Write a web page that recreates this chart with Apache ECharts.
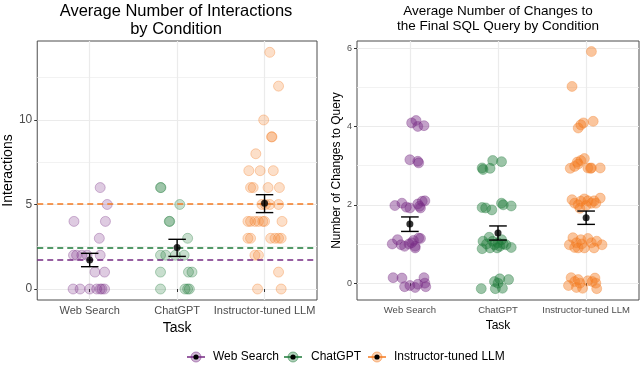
<!DOCTYPE html>
<html>
<head>
<meta charset="utf-8">
<script src="https://cdn.jsdelivr.net/npm/echarts@6/dist/echarts.min.js"></script>
<style>
  html, body { margin: 0; padding: 0; background: #fff; }
  #chart { width: 640px; height: 371px; }
</style>
</head>
<body>
<div id="chart"></div>
<script>
// categories (x positions 1..3 on a value axis, ggplot-style discrete expand)
const tasks = ['Web Search', 'ChatGPT', 'Instructor-tuned LLM']
const colors = ['#762a83', '#1b7837', '#f47a20']

// left panel: [horizontal jitter, interactions]
const webSearchInteractions = [
  [0.12, 6], [0.20, 5], [-0.18, 4], [0.18, 4], [0.11, 3],
  [-0.185, 2], [-0.15, 2], [-0.09, 2], [-0.03, 2], [0.12, 2],
  [0.06, 1], [0.17, 1],
  [-0.19, 0], [-0.11, 0], [0, 0], [0.08, 0], [0.12, 0], [0.14, 0], [0.17, 0]
]
const chatgptInteractions = [
  [-0.19, 6], [-0.185, 6], [0.03, 5], [-0.09, 4], [-0.085, 4], [0.12, 3],
  [-0.19, 2], [-0.13, 2], [-0.02, 2], [0.08, 2],
  [-0.19, 1], [0.13, 1], [0.17, 1],
  [-0.19, 0], [0.09, 0], [0.12, 0], [0.14, 0]
]
const llmInteractions = [
  [0.06, 14], [0.16, 12], [-0.01, 10], [0.08, 9], [0.085, 9], [-0.10, 8],
  [-0.18, 7], [-0.05, 7], [0.10, 7],
  [-0.16, 6], [-0.13, 6], [0.04, 6], [0.17, 6],
  [-0.03, 5], [0.01, 5], [0.06, 5], [0.16, 5],
  [-0.19, 4], [-0.16, 4], [-0.11, 4], [-0.07, 4], [-0.02, 4], [0, 4], [0.2, 4],
  [-0.19, 3], [-0.16, 3], [0.07, 3], [0.12, 3], [0.16, 3], [0.19, 3],
  [-0.11, 2], [-0.07, 2], [0.16, 1], [-0.08, 0], [0.19, 0]
]
const interactionMean = [1.72, 2.45, 5.07]
const interactionLow = [1.32, 1.93, 4.52]
const interactionHigh = [2.11, 2.94, 5.58]
const interactionTicks = [0, 5, 10]
const interactionMinorTicks = [2.5, 7.5, 12.5]

// right panel: [horizontal jitter, jittered number of changes]
const webSearchChanges = [
  [0.02, 4.09], [0.07, 4.15], [0.09, 4.0], [0.16, 4.02],
  [0, 3.15], [0.09, 3.11], [0.10, 3.07],
  [-0.17, 1.98], [-0.09, 2.04], [-0.04, 1.94], [0, 1.92], [0.09, 2.02], [0.11, 1.96], [0.14, 2.09], [0.17, 2.10], [0.12, 1.92],
  [-0.20, 1.0], [-0.14, 1.11], [-0.10, 0.98], [-0.06, 0.94], [-0.01, 1.0], [0.02, 1.03], [0.06, 0.94], [0.10, 1.15], [0.12, 1.14], [0.06, 0.9], [0.04, 1.09],
  [-0.19, 0.14], [-0.09, 0.13], [-0.06, -0.09], [0, -0.06], [0.06, -0.11], [0.09, -0.03], [0.16, 0.14], [0.17, 0], [0.18, -0.09]
]
const chatgptChanges = [
  [-0.17, 2.90], [-0.18, 2.94], [-0.09, 2.93], [-0.06, 3.13], [0.04, 3.10],
  [-0.18, 1.93], [-0.14, 1.92], [-0.07, 1.87], [0.04, 2.04], [0.06, 2.0], [0.15, 1.97],
  [-0.17, 1.07], [-0.10, 1.17], [-0.18, 0.88], [-0.09, 0.9], [-0.04, 0.98], [0, 1.03], [0.02, 0.94], [0.06, 1.0], [0.09, 0.98], [0.15, 0.91], [-0.01, 0.9], [0.04, 1.11], [-0.06, 1.07], [-0.13, 1.0],
  [-0.19, -0.14], [-0.04, 0.04], [0.02, 0.11], [-0.03, -0.14], [0.05, -0.13], [0.12, 0.09], [0, 0]
]
const llmChanges = [
  [0.06, 5.91], [-0.16, 5.02],
  [-0.09, 3.96], [-0.06, 4.04], [-0.03, 4.09], [0.08, 4.13],
  [-0.18, 2.93], [-0.13, 2.98], [-0.10, 3.09], [-0.06, 3.13], [-0.02, 3.18], [0.02, 2.94], [0.05, 2.93], [0.06, 2.94], [0.16, 2.94], [-0.09, 3.04],
  [-0.16, 2.13], [-0.13, 2.04], [-0.09, 2.0], [-0.06, 2.09], [-0.02, 2.15], [0.02, 2.10], [0.06, 2.04], [0.09, 2.10], [0.16, 2.17], [-0.07, 1.91], [0, 1.98], [0.11, 2.04],
  [-0.19, 0.98], [-0.15, 1.16], [-0.11, 1.03], [-0.09, 0.9], [-0.05, 1.0], [-0.02, 0.9], [0.02, 1.14], [0.06, 1.03], [0.09, 0.9], [0.12, 1.07], [0.18, 0.98], [-0.13, 0.91], [-0.06, 1.11],
  [-0.20, -0.06], [-0.17, 0.14], [-0.13, 0.04], [-0.11, -0.11], [-0.07, 0], [-0.04, -0.13], [0.02, 0.06], [0.07, 0.04], [0.10, 0.13], [0.12, -0.14], [-0.09, 0.09], [0.11, 0]
]
const changesMean = [1.51, 1.28, 1.67]
const changesLow = [1.32, 1.10, 1.50]
const changesHigh = [1.69, 1.46, 1.84]
const changesTicks = [0, 2, 4, 6]
const changesMinorTicks = [1, 3, 5]

const FONT = '"Liberation Sans", Arial, sans-serif'
const CAP = 0.1

function rgba(hex, a) {
  const n = parseInt(hex.slice(1), 16)
  return `rgba(${n >> 16},${(n >> 8) & 255},${n & 255},${a})`
}

function place(points, i) {
  return points.map(([dx, y]) => [i + 1 + dx, y])
}

function xAxisFor(gridIndex, labelSize, nameSize, nameGap) {
  return {
    gridIndex, type: 'value', min: 0.4, max: 3.6,
    name: 'Task', nameLocation: 'middle', nameGap,
    nameTextStyle: { fontSize: nameSize, color: '#000', fontFamily: FONT },
    axisLine: { show: false },
    axisTick: { show: true, length: 3, customValues: [1, 2, 3], lineStyle: { color: '#333' } },
    axisLabel: {
      customValues: [1, 2, 3], fontSize: labelSize, color: '#4d4d4d', fontFamily: FONT, margin: 5,
      formatter: v => tasks[Math.round(v) - 1]
    },
    splitLine: { show: true, lineStyle: { color: '#ebebeb', width: 1.2 } }
  }
}

function yAxisFor(gridIndex, min, max, ticks, name, labelSize, nameSize, nameGap) {
  return {
    gridIndex, type: 'value', min, max,
    name, nameLocation: 'middle', nameGap,
    nameTextStyle: { fontSize: nameSize, color: '#000', fontFamily: FONT },
    axisLine: { show: false },
    axisTick: { show: true, length: 3, customValues: ticks, lineStyle: { color: '#333' } },
    axisLabel: { customValues: ticks, fontSize: labelSize, color: '#4d4d4d', fontFamily: FONT, margin: 5 },
    splitLine: { show: true, lineStyle: { color: '#ebebeb', width: 1.2 } }
  }
}

function minorAxisFor(gridIndex, min, max, ticks) {
  return {
    gridIndex, type: 'value', min, max,
    axisLine: { show: false },
    axisTick: { show: false, customValues: ticks },
    axisLabel: { show: false },
    splitLine: { show: true, lineStyle: { color: '#efefef', width: 0.8 } }
  }
}

function errorSeries(xi, yi, means, lows, highs) {
  return {
    type: 'custom', xAxisIndex: xi, yAxisIndex: yi, z: 5,
    data: means.map((m, i) => [i + 1, lows[i], highs[i]]),
    renderItem(params, api) {
      const x = api.value(0)
      const top = api.coord([x, api.value(2)])
      const bot = api.coord([x, api.value(1)])
      const l = api.coord([x - CAP, 0])[0]
      const r = api.coord([x + CAP, 0])[0]
      const style = { stroke: '#000', lineWidth: 1.4 }
      return {
        type: 'group',
        children: [
          { type: 'line', shape: { x1: top[0], y1: top[1], x2: bot[0], y2: bot[1] }, style },
          { type: 'line', shape: { x1: l, y1: top[1], x2: r, y2: top[1] }, style },
          { type: 'line', shape: { x1: l, y1: bot[1], x2: r, y2: bot[1] }, style }
        ]
      }
    }
  }
}

function meanSeries(xi, yi, means) {
  return {
    type: 'scatter', xAxisIndex: xi, yAxisIndex: yi, z: 6,
    symbolSize: 7, itemStyle: { color: '#000' },
    data: means.map((m, i) => [i + 1, m])
  }
}

const leftPoints = [webSearchInteractions, chatgptInteractions, llmInteractions]
const rightPoints = [webSearchChanges, chatgptChanges, llmChanges]

const series = []
leftPoints.forEach((pts, i) => {
  series.push({
    type: 'scatter', xAxisIndex: 0, yAxisIndex: 0, z: 2,
    symbolSize: 10,
    itemStyle: { color: rgba(colors[i], 0.3), borderColor: rgba(colors[i], 0.4), borderWidth: 1 },
    data: place(pts, i),
    markLine: {
      silent: true, symbol: 'none', label: { show: false }, z: 3,
      lineStyle: { color: colors[i], type: [6, 4], width: 1.5 },
      data: [{ yAxis: interactionMean[i] }]
    }
  })
})
series.push(errorSeries(0, 0, interactionMean, interactionLow, interactionHigh))
series.push(meanSeries(0, 0, interactionMean))

rightPoints.forEach((pts, i) => {
  series.push({
    type: 'scatter', xAxisIndex: 1, yAxisIndex: 2, z: 2,
    symbolSize: 10,
    itemStyle: { color: rgba(colors[i], 0.55), borderColor: rgba(colors[i], 0.4), borderWidth: 1 },
    data: place(pts, i)
  })
})
series.push(errorSeries(1, 2, changesMean, changesLow, changesHigh))
series.push(meanSeries(1, 2, changesMean))

// legend drawn by hand: coloured line + circle with a black dot (pointrange key)
const legendItems = [
  { cx: 196, tx: 213 }, { cx: 293, tx: 311 }, { cx: 377, tx: 394 }
]
const legendGraphics = []
legendItems.forEach((it, i) => {
  const cy = 357
  legendGraphics.push(
    { type: 'line', shape: { x1: it.cx - 9, y1: cy, x2: it.cx + 9, y2: cy }, style: { stroke: colors[i], lineWidth: 1.5 } },
    { type: 'circle', shape: { cx: it.cx, cy, r: 5 }, style: { fill: rgba(colors[i], 0.35), stroke: rgba(colors[i], 0.5), lineWidth: 1 } },
    { type: 'circle', shape: { cx: it.cx, cy, r: 2.6 }, style: { fill: '#000' } },
    { type: 'text', x: it.tx, y: cy, style: { text: tasks[i], fontSize: 12, fontFamily: FONT, fill: '#000', textVerticalAlign: 'middle' } }
  )
})

const chart = echarts.init(document.getElementById('chart'))
chart.setOption({
  animation: false,
  backgroundColor: '#fff',
  title: [
    {
      text: 'Average Number of Interactions\nby Condition',
      left: 171, top: -3, textAlign: 'center',
      textStyle: { fontSize: 16.5, fontWeight: 'normal', color: '#000', fontFamily: FONT, lineHeight: 18 }
    },
    {
      text: 'Average Number of Changes to\nthe Final SQL Query by Condition',
      left: 493, top: -1, textAlign: 'center',
      textStyle: { fontSize: 13.5, fontWeight: 'normal', color: '#000', fontFamily: FONT, lineHeight: 15 }
    }
  ],
  grid: [
    { left: 35, top: 41, width: 282, height: 259, show: true, borderColor: '#4d4d4d', borderWidth: 1, backgroundColor: '#fff' },
    { left: 357, top: 41, width: 282, height: 259, show: true, borderColor: '#4d4d4d', borderWidth: 1, backgroundColor: '#fff' }
  ],
  xAxis: [
    xAxisFor(0, 11, 14, 12),
    xAxisFor(1, 9.5, 12, 17)
  ],
  yAxis: [
    yAxisFor(0, -0.65, 14.67, interactionTicks, 'Interactions', 12, 14, 20),
    minorAxisFor(0, -0.65, 14.67, interactionMinorTicks),
    yAxisFor(1, -0.43, 6.18, changesTicks, 'Number of Changes to Query', 9, 12, 14),
    minorAxisFor(1, -0.43, 6.18, changesMinorTicks)
  ],
  graphic: legendGraphics,
  series
})
</script>
</body>
</html>
